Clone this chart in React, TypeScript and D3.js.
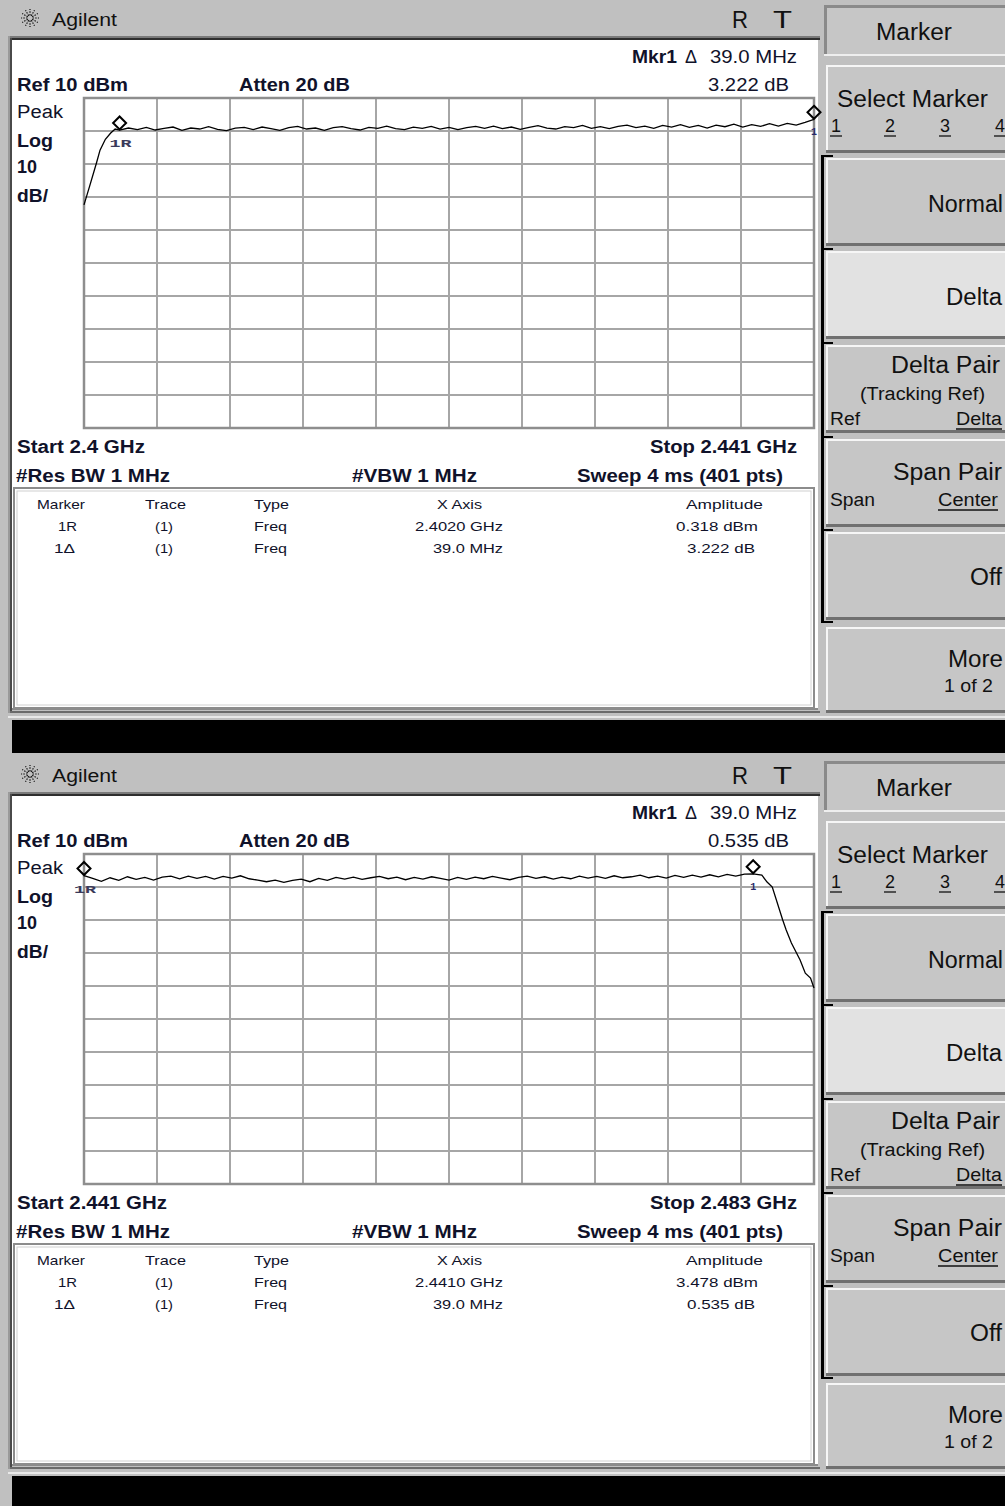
import React from "react";
import * as d3 from "d3";

const FONT = "'Liberation Sans', Arial, Helvetica, sans-serif";
const INK = "#10122a";

// ---------- data ----------
const panelOffsets = [0, 756];
const startMHz = [2400, 2441];
const stopMHz = [2441, 2483];
const refLevel = 10;
const dbPerDiv = 10;
const divisions = 10;

const topTrace: [number, number][] = [
  [2400.0, -22.4], [2400.3, -17.0], [2400.7, -9.7], [2400.9, -5.8], [2401.2, -2.5],
  [2401.5, -0.6], [2401.75, 0.6], [2402.0, 0.3],
  [2402.5, 0.9], [2403.0, 0.4], [2403.5, 1.1], [2404.0, 0.3], [2404.5, 0.8], [2405.0, 1.2],
  [2405.5, 0.2], [2406.0, 0.9], [2406.5, 0.6], [2407.0, 1.3], [2407.5, 0.5], [2408.0, 0.1],
  [2408.5, 0.9], [2409.0, 1.1], [2409.5, 0.4], [2410.0, 1.2], [2410.5, 0.7], [2411.0, 0.2],
  [2411.5, 1.0], [2412.0, 1.4], [2412.5, 0.6], [2413.0, 0.9], [2413.5, 0.2], [2414.0, 1.0],
  [2414.5, 1.3], [2415.0, 0.7], [2415.5, 0.3], [2416.0, 1.1], [2416.5, 0.8], [2417.0, 1.5],
  [2417.5, 0.7], [2418.0, 0.4], [2418.5, 1.2], [2419.0, 0.8], [2419.5, 1.4], [2420.0, 0.6],
  [2420.5, 1.1], [2421.0, 0.4], [2421.5, 1.0], [2422.0, 1.4], [2422.5, 0.8], [2423.0, 1.5],
  [2423.5, 0.7], [2424.0, 1.2], [2424.5, 0.5], [2425.0, 1.1], [2425.5, 1.6], [2426.0, 0.9],
  [2426.5, 0.6], [2427.0, 1.3], [2427.5, 1.0], [2428.0, 1.7], [2428.5, 0.8], [2429.0, 1.3],
  [2429.5, 0.7], [2430.0, 1.4], [2430.5, 1.8], [2431.0, 1.0], [2431.5, 1.5], [2432.0, 0.8],
  [2432.5, 1.7], [2433.0, 1.2], [2433.5, 1.9], [2434.0, 1.1], [2434.5, 1.7], [2435.0, 0.9],
  [2435.5, 1.8], [2436.0, 1.3], [2436.5, 2.1], [2437.0, 1.2], [2437.5, 1.9], [2438.0, 1.4],
  [2438.5, 2.2], [2439.0, 1.5], [2439.5, 2.3], [2440.0, 1.8], [2440.5, 2.6], [2441.0, 3.5],
];

const bottomTrace: [number, number][] = [
  [2441.0, 3.48], [2441.5, 2.6], [2442.0, 1.7], [2442.5, 2.8], [2443.0, 2.0], [2443.5, 3.1],
  [2444.0, 2.3], [2444.5, 2.9], [2445.0, 2.1], [2445.5, 3.0], [2446.0, 3.3], [2446.5, 2.5],
  [2447.0, 3.3], [2447.5, 2.6], [2448.0, 3.2], [2448.5, 2.4], [2449.0, 3.2], [2449.5, 2.7],
  [2450.0, 3.4], [2450.5, 2.5], [2451.0, 2.1], [2451.5, 1.6], [2452.0, 2.1], [2452.5, 1.4],
  [2453.0, 2.0], [2453.5, 2.4], [2454.0, 1.6], [2454.5, 2.6], [2455.0, 2.0], [2455.5, 2.9],
  [2456.0, 2.4], [2456.5, 3.0], [2457.0, 2.3], [2457.5, 2.8], [2458.0, 3.2], [2458.5, 2.5],
  [2459.0, 3.0], [2459.5, 2.2], [2460.0, 2.9], [2460.5, 2.4], [2461.0, 3.1], [2461.5, 2.6],
  [2462.0, 2.1], [2462.5, 2.9], [2463.0, 2.3], [2463.5, 3.0], [2464.0, 2.5], [2464.5, 3.2],
  [2465.0, 2.7], [2465.5, 2.2], [2466.0, 2.9], [2466.5, 3.3], [2467.0, 2.6], [2467.5, 3.1],
  [2468.0, 2.4], [2468.5, 3.0], [2469.0, 2.5], [2469.5, 3.3], [2470.0, 2.7], [2470.5, 3.2],
  [2471.0, 2.6], [2471.5, 3.4], [2472.0, 2.8], [2472.5, 3.1], [2473.0, 3.6], [2473.5, 2.8],
  [2474.0, 3.3], [2474.5, 2.7], [2475.0, 3.5], [2475.5, 2.9], [2476.0, 3.6], [2476.5, 3.0],
  [2477.0, 3.7], [2477.5, 3.1], [2478.0, 3.8], [2478.5, 3.3], [2479.0, 3.9], [2479.5, 4.0],
  [2480.0, 3.6], [2480.3, 1.5], [2480.6, 0.0], [2481.2, -10.0], [2481.4, -13.0],
  [2481.7, -17.0], [2482.2, -22.1], [2482.5, -26.1], [2482.8, -27.6], [2483.0, -30.6],
];

const traces = [topTrace, bottomTrace];

const refMarkerMHz = [2402.0, 2441.0];
const refMarkerDbm = [0.318, 3.478];
const deltaMarkerMHz = [2441.0, 2479.5];
const deltaMarkerDb = [3.222, 0.535];

const mkrDeltaText = ["39.0 MHz", "39.0 MHz"];
const mkrDeltaValText = ["3.222 dB", "0.535 dB"];
const startLabels = ["Start 2.4 GHz", "Start 2.441 GHz"];
const startLens = [128, 150];
const stopLabels = ["Stop 2.441 GHz", "Stop 2.483 GHz"];
const tableRefX = ["2.4020 GHz", "2.4410 GHz"];
const tableRefAmp = ["0.318 dBm", "3.478 dBm"];
const tableDeltaX = ["39.0 MHz", "39.0 MHz"];
const tableDeltaAmp = ["3.222 dB", "0.535 dB"];

// ---------- layout ----------
const GX0 = 84, GX1 = 814, GY0 = 98, GY1 = 428;

type TP = {
  x: number; y: number; s: string; size?: number; bold?: boolean; len?: number;
  anchor?: string; fill?: string; family?: string;
};
function Txt({ x, y, s, size = 18, bold = false, len, anchor = "start", fill = INK, family = FONT }: TP) {
  const extra: any = {};
  if (len) { extra.textLength = len; extra.lengthAdjust = "spacingAndGlyphs"; }
  return (
    <text x={x} y={y} fontSize={size} fontWeight={bold ? "bold" : "normal"} fontFamily={family}
      textAnchor={anchor as any} fill={fill} {...extra}>{s}</text>
  );
}

function Button({ y, h, fill = "#c6c6c6" }: { y: number; h: number; fill?: string }) {
  return (
    <g>
      <rect x={826} y={y} width={179} height={h} fill={fill} />
      <rect x={826} y={y} width={179} height={2} fill="#f6f6f6" />
      <rect x={826} y={y} width={2} height={h} fill="#f6f6f6" />
      <rect x={826} y={y + h - 3} width={179} height={3} fill="#707070" />
    </g>
  );
}

function Logo({ cx, cy }: { cx: number; cy: number }) {
  const rays = d3.range(12).map((i) => (i * Math.PI * 2) / 12);
  return (
    <g>
      {rays.map((a, i) => (
        <line key={i} x1={cx + Math.cos(a) * 2.5} y1={cy + Math.sin(a) * 2.5}
          x2={cx + Math.cos(a) * 9} y2={cy + Math.sin(a) * 9}
          stroke="#111" strokeWidth={1.2} strokeDasharray="1.5,1.2" />
      ))}
    </g>
  );
}

function Diamond({ cx, cy }: { cx: number; cy: number }) {
  const r = 6.5;
  return <path d={`M${cx},${cy - r}L${cx + r},${cy}L${cx},${cy + r}L${cx - r},${cy}Z`} fill="none" stroke="#000" strokeWidth={2} />;
}

function Panel({ idx }: { idx: number }) {
  const off = panelOffsets[idx];
  const x = d3.scaleLinear().domain([startMHz[idx], stopMHz[idx]]).range([GX0, GX1]);
  const y = d3.scaleLinear().domain([refLevel - dbPerDiv * divisions, refLevel]).range([GY1, GY0]);
  const line = d3.line<[number, number]>().x((d) => x(d[0])).y((d) => y(d[1]));
  const span = stopMHz[idx] - startMHz[idx];
  const vLines = d3.range(1, divisions).map((k) => x(startMHz[idx] + (k * span) / divisions));
  const hLines = d3.range(1, divisions).map((k) => y(refLevel - k * dbPerDiv));

  const rx = x(refMarkerMHz[idx]);
  const ry = y(refMarkerDbm[idx]);
  const dx = x(deltaMarkerMHz[idx]);
  const dy = y(refMarkerDbm[idx] + deltaMarkerDb[idx]);
  const clipId = `clip${idx}`;

  const btnTops = [65, 158, 251, 345, 439, 532, 627];
  const bracketTicks = [155, 248, 342, 436, 529, 621];

  return (
    <g transform={`translate(0,${off})`}>
      {/* title bar */}
      <rect x={0} y={0} width={1005} height={37} fill="#c0c0c0" />
      <Logo cx={30} cy={18} />
      <Txt x={52} y={26} s="Agilent" size={18} len={65} fill="#111" />
      <Txt x={732} y={28} s="R" size={24} len={16} fill="#111" />
      <Txt x={773} y={28} s="T" size={24} len={19} fill="#111" />

      {/* display frame */}
      <rect x={8} y={36} width={812} height={2} fill="#7a7a7a" />
      <rect x={8} y={38} width={812} height={2} fill="#2e2e2e" />
      <rect x={12} y={40} width={806} height={670} fill="#ffffff" />
      <rect x={8} y={36} width={2} height={677} fill="#9a9a9a" />
      <rect x={10} y={38} width={2} height={675} fill="#4a4a4a" />
      <rect x={12} y={708} width={806} height={2} fill="#8a8a8a" />
      <rect x={10} y={711} width={810} height={2} fill="#6a6a6a" />
      <rect x={8} y={716} width={997} height={2} fill="#e8e8e8" />
      <rect x={12} y={720} width={993} height={33} fill="#000" />

      {/* header texts */}
      <Txt x={632} y={63} s="Mkr1" bold len={45} />
      <Txt x={685} y={63} s="Δ" len={12} />
      <Txt x={710} y={63} s={mkrDeltaText[idx]} len={87} />
      <Txt x={708} y={91} s={mkrDeltaValText[idx]} len={81} />
      <Txt x={17} y={91} s="Ref 10 dBm" bold len={111} />
      <Txt x={239} y={91} s="Atten 20 dB" bold len={111} />
      <Txt x={17} y={118} s="Peak" len={46} />
      <Txt x={17} y={147} s="Log" bold len={36} />
      <Txt x={17} y={173} s="10" bold len={20} />
      <Txt x={17} y={202} s="dB/" bold len={31} />

      {/* grid */}
      {vLines.map((vx, i) => (
        <line key={"v" + i} x1={vx} x2={vx} y1={GY0} y2={GY1} stroke="#a6a6a6" strokeWidth={2} />
      ))}
      {hLines.map((hy, i) => (
        <line key={"h" + i} x1={GX0} x2={GX1} y1={hy} y2={hy} stroke="#a6a6a6" strokeWidth={2} />
      ))}
      <rect x={GX0} y={GY0} width={GX1 - GX0} height={GY1 - GY0} fill="none" stroke="#8e8e8e" strokeWidth={2.5} />

      {/* trace */}
      <clipPath id={clipId}>
        <rect x={GX0 - 1} y={GY0 - 4} width={GX1 - GX0 + 3} height={GY1 - GY0 + 8} />
      </clipPath>
      <path d={line(traces[idx]) || ""} fill="none" stroke="#000" strokeWidth={1.3} clipPath={`url(#${clipId})`} />

      {/* markers */}
      <Diamond cx={rx} cy={ry - 7} />
      <Txt x={rx - 10} y={ry + 17} s="1R" size={11} bold len={22} fill="#3a3a5a" family="'Liberation Mono', 'DejaVu Sans Mono', monospace" />
      <Diamond cx={dx} cy={dy - 7} />
      <Txt x={dx - 3} y={dy + 16} s="1" size={11} bold len={6} fill="#2a2a6a" family="'Liberation Mono', 'DejaVu Sans Mono', monospace" />

      {/* footer texts */}
      <Txt x={17} y={453} s={startLabels[idx]} bold len={startLens[idx]} />
      <Txt x={650} y={453} s={stopLabels[idx]} bold len={147} />
      <Txt x={16} y={482} s="#Res BW 1 MHz" bold len={154} />
      <Txt x={352} y={482} s="#VBW 1 MHz" bold len={125} />
      <Txt x={577} y={482} s="Sweep 4 ms (401 pts)" bold len={206} />

      {/* marker table */}
      <rect x={14} y={488} width={800} height={220} fill="#fff" stroke="#8c8c8c" strokeWidth={2} />
      <rect x={17} y={491} width={794} height={214} fill="none" stroke="#d0d0d0" strokeWidth={1} />
      <Txt x={37} y={509} s="Marker" size={13.5} len={48} />
      <Txt x={145} y={509} s="Trace" size={13.5} len={41} />
      <Txt x={254} y={509} s="Type" size={13.5} len={35} />
      <Txt x={437} y={509} s="X Axis" size={13.5} len={45} />
      <Txt x={686} y={509} s="Amplitude" size={13.5} len={77} />
      <Txt x={58} y={531} s="1R" size={13.5} len={19} />
      <Txt x={155} y={531} s="(1)" size={13.5} len={18} />
      <Txt x={254} y={531} s="Freq" size={13.5} len={33} />
      <Txt x={415} y={531} s={tableRefX[idx]} size={13.5} len={88} />
      <Txt x={676} y={531} s={tableRefAmp[idx]} size={13.5} len={82} />
      <Txt x={54} y={553} s="1Δ" size={13.5} len={21} />
      <Txt x={155} y={553} s="(1)" size={13.5} len={18} />
      <Txt x={254} y={553} s="Freq" size={13.5} len={33} />
      <Txt x={433} y={553} s={tableDeltaX[idx]} size={13.5} len={70} />
      <Txt x={687} y={553} s={tableDeltaAmp[idx]} size={13.5} len={68} />

      {/* softkeys */}
      <rect x={824} y={5} width={181} height={51} fill="#c6c6c6" />
      <rect x={824} y={5} width={181} height={3} fill="#8a8a8a" />
      <rect x={824} y={5} width={3} height={51} fill="#8a8a8a" />
      <rect x={824} y={54} width={181} height={2} fill="#eeeeee" />
      <Txt x={876} y={40} s="Marker" size={23} len={76} fill="#111" />

      {btnTops.map((t, i) => (
        <Button key={i} y={t} h={i === btnTops.length - 1 ? 86 : 88} fill={i === 2 ? "#e2e2e2" : "#c6c6c6"} />
      ))}
      <Txt x={837} y={107} s="Select Marker" size={23} len={151} fill="#111" />
      {[["1", 831], ["2", 885], ["3", 940], ["4", 995]].map(([s, px]) => (
        <g key={s as string}>
          <Txt x={px as number} y={132} s={s as string} size={19} len={10} fill="#111" />
          <line x1={(px as number) - 1} x2={(px as number) + 11} y1={136} y2={136} stroke="#111" strokeWidth={1.3} />
        </g>
      ))}
      <Txt x={928} y={212} s="Normal" size={23} len={75} fill="#111" />
      <Txt x={946} y={305} s="Delta" size={23} len={56} fill="#111" />
      <Txt x={891} y={373} s="Delta Pair" size={23} len={109} fill="#111" />
      <Txt x={860} y={400} s="(Tracking Ref)" size={18} len={125} fill="#111" />
      <Txt x={830} y={425} s="Ref" size={18} len={30} fill="#111" />
      <Txt x={956} y={425} s="Delta" size={18} len={46} fill="#111" />
      <line x1={956} x2={1002} y1={429} y2={429} stroke="#111" strokeWidth={1.3} />
      <Txt x={893} y={480} s="Span Pair" size={23} len={109} fill="#111" />
      <Txt x={830} y={506} s="Span" size={18} len={45} fill="#111" />
      <Txt x={938} y={506} s="Center" size={18} len={60} fill="#111" />
      <line x1={938} x2={998} y1={510} y2={510} stroke="#111" strokeWidth={1.3} />
      <Txt x={970} y={585} s="Off" size={23} len={32} fill="#111" />
      <Txt x={948} y={667} s="More" size={23} len={55} fill="#111" />
      <Txt x={944} y={692} s="1 of 2" size={18} len={49} fill="#111" />

      {/* bracket */}
      <rect x={821} y={155} width={3} height={467} fill="#000" />
      {bracketTicks.map((t, i) => (
        <rect key={i} x={821} y={t} width={12} height={2} fill="#000" />
      ))}
    </g>
  );
}

export default function App() {
  return (
    <svg width={1005} height={1506} viewBox="0 0 1005 1506"
      style={{ position: "absolute", left: 0, top: 0, display: "block" }}>
      <rect x={0} y={0} width={1005} height={1506} fill="#c0c0c0" />
      {panelOffsets.map((_, i) => <Panel key={i} idx={i} />)}
    </svg>
  );
}
